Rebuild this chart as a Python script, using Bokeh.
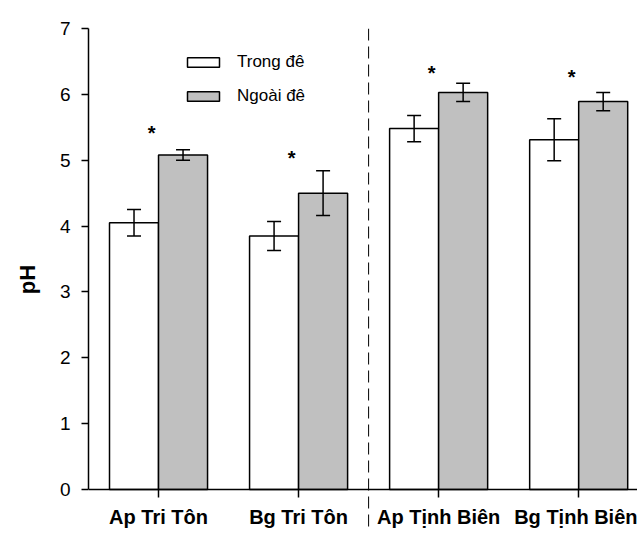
from bokeh.plotting import figure
from bokeh.models import (Range1d, FixedTicker, Whisker, ColumnDataSource, Legend,
                          LegendItem, Span, TeeHead)
from bokeh.core.properties import value
from bokeh.embed import file_html
from bokeh.resources import INLINE

# ---- data ----
sites = ["Ap Tri Tôn", "Bg Tri Tôn", "Ap Tịnh Biên", "Bg Tịnh Biên"]
series_names = ["Trong đê", "Ngoài đê"]
trong_de = [4.05, 3.85, 5.48, 5.31]
trong_de_err = [0.20, 0.22, 0.20, 0.32]
ngoai_de = [5.08, 4.50, 6.03, 5.89]
ngoai_de_err = [0.08, 0.34, 0.14, 0.14]
star_y = [5.42, 5.03, 6.33, 6.27]
y_ticks = [0, 1, 2, 3, 4, 5, 6, 7]

FONT = "Liberation Sans"
centers = [i + 0.5 for i in range(len(sites))]
bw = 0.35

p = figure(width=637, height=533, output_backend="svg", toolbar_location=None,
           x_range=Range1d(0, 3.92), y_range=Range1d(-0.6226, 7),
           min_border_left=88, min_border_right=0, min_border_top=28, min_border_bottom=3)
p.outline_line_color = None
p.grid.visible = False
p.background_fill_color = "white"
p.border_fill_color = "white"

src_w = ColumnDataSource(dict(x=[c - bw / 2 for c in centers], top=trong_de,
                              upper=[v + e for v, e in zip(trong_de, trong_de_err)],
                              lower=[v - e for v, e in zip(trong_de, trong_de_err)]))
src_g = ColumnDataSource(dict(x=[c + bw / 2 for c in centers], top=ngoai_de,
                              upper=[v + e for v, e in zip(ngoai_de, ngoai_de_err)],
                              lower=[v - e for v, e in zip(ngoai_de, ngoai_de_err)]))

r_w = p.vbar(x="x", top="top", bottom=0, width=bw, source=src_w,
             fill_color="white", line_color="black", line_width=1.5)
r_g = p.vbar(x="x", top="top", bottom=0, width=bw, source=src_g,
             fill_color="#c0c0c0", line_color="black", line_width=1.5)

for src in (src_w, src_g):
    w = Whisker(base="x", upper="upper", lower="lower", source=src, dimension="height",
                line_color="black", line_width=1.5, level="overlay",
                upper_head=TeeHead(size=14, line_color="black", line_width=1.5),
                lower_head=TeeHead(size=14, line_color="black", line_width=1.5))
    p.add_layout(w)

p.text(x=[c - 0.05 for c in centers], y=star_y, text=["*"] * len(sites),
       text_font=value(FONT), text_font_size="20px", text_font_style="bold",
       text_align="center", text_baseline="middle", text_color="black")

# dashed divider between the two districts
p.add_layout(Span(location=2.0, dimension="height", line_color="black",
                  line_width=1, line_dash="12 6"))

# axes
p.yaxis.ticker = FixedTicker(ticks=y_ticks)
p.yaxis.bounds = (0, 7)
p.yaxis.axis_label = "pH"
p.yaxis.axis_label_text_font = FONT
p.yaxis.axis_label_text_font_style = "bold"
p.yaxis.axis_label_text_font_size = "22px"
p.yaxis.axis_label_standoff = 17
p.yaxis.major_label_text_font = FONT
p.yaxis.major_label_text_font_size = "19px"
p.yaxis.major_label_standoff = 11
p.yaxis.major_tick_out = 7
p.yaxis.major_tick_in = 0
p.yaxis.minor_tick_out = 0
p.yaxis.minor_tick_in = 0

p.xaxis.fixed_location = 0
p.xaxis.ticker = FixedTicker(ticks=centers)
p.xaxis.major_label_overrides = {c: s for c, s in zip(centers, sites)}
p.xaxis.major_label_text_font = FONT
p.xaxis.major_label_text_font_style = "bold"
p.xaxis.major_label_text_font_size = "20px"
p.xaxis.major_label_standoff = 9
p.xaxis.major_tick_out = 8
p.xaxis.major_tick_in = 0
p.xaxis.minor_tick_out = 0
p.xaxis.minor_tick_in = 0

for ax in (p.xaxis, p.yaxis):
    ax.axis_line_color = "black"
    ax.axis_line_width = 1.5
    ax.major_tick_line_width = 1.5
    ax.major_label_text_color = "black"
    ax.axis_label_text_color = "black"

legend = Legend(items=[LegendItem(label=series_names[0], renderers=[r_w]),
                       LegendItem(label=series_names[1], renderers=[r_g])],
                location=(95, 424), glyph_width=40, glyph_height=12,
                label_height=20, spacing=14, label_standoff=14, padding=0, margin=0,
                border_line_color=None, background_fill_alpha=0,
                label_text_font=FONT, label_text_font_size="17px",
                label_text_color="black")
p.add_layout(legend)

open("out.html", "w").write(file_html(p, INLINE))
